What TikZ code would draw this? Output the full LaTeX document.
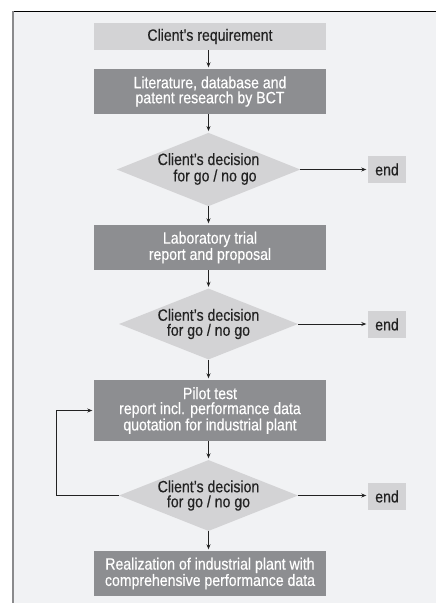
\documentclass[tikz,border=0pt]{standalone}
\usepackage{fontspec}
\setmainfont[FakeStretch=0.86,FakeBold=0.4]{Liberation Sans}
\usetikzlibrary{shapes.geometric,arrows.meta}
\definecolor{bgc}{HTML}{F1F2F4}
\definecolor{lightc}{HTML}{D3D3D5}
\definecolor{darkc}{HTML}{8D8E91}
\definecolor{framec}{HTML}{8A8A8C}
\definecolor{txtc}{HTML}{222222}
\tikzset{
  every node/.style={font=\fontsize{16.4}{15}\selectfont, align=center, inner sep=0pt},
  lightbox/.style={fill=lightc, text=txtc, minimum width=232pt, minimum height=27pt},
  darkbox/.style={fill=darkc, text=white, minimum width=232pt},
  decide/.style={shape=diamond, fill=lightc, text=txtc, aspect=2.5, minimum width=179pt, minimum height=71pt},
  endbox/.style={fill=lightc, text=txtc, minimum width=38pt, minimum height=27pt},
  conn/.style={draw=txtc, line width=0.8pt, -{Stealth[length=5pt,width=4pt]}, shorten >=1.5pt}
}
\begin{document}
\begin{tikzpicture}[x=1pt,y=-1pt]
\useasboundingbox (0,0) rectangle (436,603);
\fill[white] (0,0) rectangle (436,603);
\fill[bgc] (13,11.5) rectangle (436,603);
\draw[black, line width=1pt] (12,11.5) -- (436,11.5);
\draw[framec, line width=2pt] (13,11) -- (13,603);

\node[lightbox] (b1) at (210,36.5) {Client’s requirement};
\node[darkbox, minimum height=45pt] (b2) at (210,91.5) {Literature, database and\\patent research by BCT};
\node[decide] (d1) at (208.5,169.5) {\raisebox{-4pt}{\begin{tabular}{@{}c@{}}Client’s decision\\\hspace*{13pt}for go / no go\end{tabular}}};
\node[endbox] (e1) at (387,169.5) {end};
\node[darkbox, minimum height=45pt] (b3) at (210,247.5) {Laboratory trial\\report and proposal};
\node[decide] (d2) at (208.5,324) {Client’s decision\\for go / no go};
\node[endbox] (e2) at (387,324.5) {end};
\node[darkbox, minimum height=61pt] (b4) at (210,410.5) {Pilot test\\report incl. performance data\\quotation for industrial plant};
\node[decide] (d3) at (208.5,495.5) {Client’s decision\\for go / no go};
\node[endbox] (e3) at (387,496.5) {end};
\node[darkbox, minimum height=45pt] (b5) at (210,573.5) {Realization of industrial plant with\\comprehensive performance data};

\draw[conn] (b1.south -| d1.north) -- (b2.north -| d1.north);
\draw[conn] (b2.south -| d1.north) -- (d1.north);
\draw[conn] (d1.south) -- (b3.north -| d1.south);
\draw[conn] (b3.south -| d2.north) -- (d2.north);
\draw[conn] (d2.south) -- (b4.north -| d2.south);
\draw[conn] (b4.south -| d3.north) -- (d3.north);
\draw[conn] (d3.south) -- (b5.north -| d3.south);
\draw[conn] (d1.east) -- (e1.west |- d1.east);
\draw[conn] (d2.east) -- (e2.west |- d2.east);
\draw[conn] (d3.east) -- (e3.west |- d3.east);
\coordinate (lp) at (56,495.5);
\draw[conn] (d3.west) -- (lp) |- (b4.west);
\end{tikzpicture}
\end{document}
